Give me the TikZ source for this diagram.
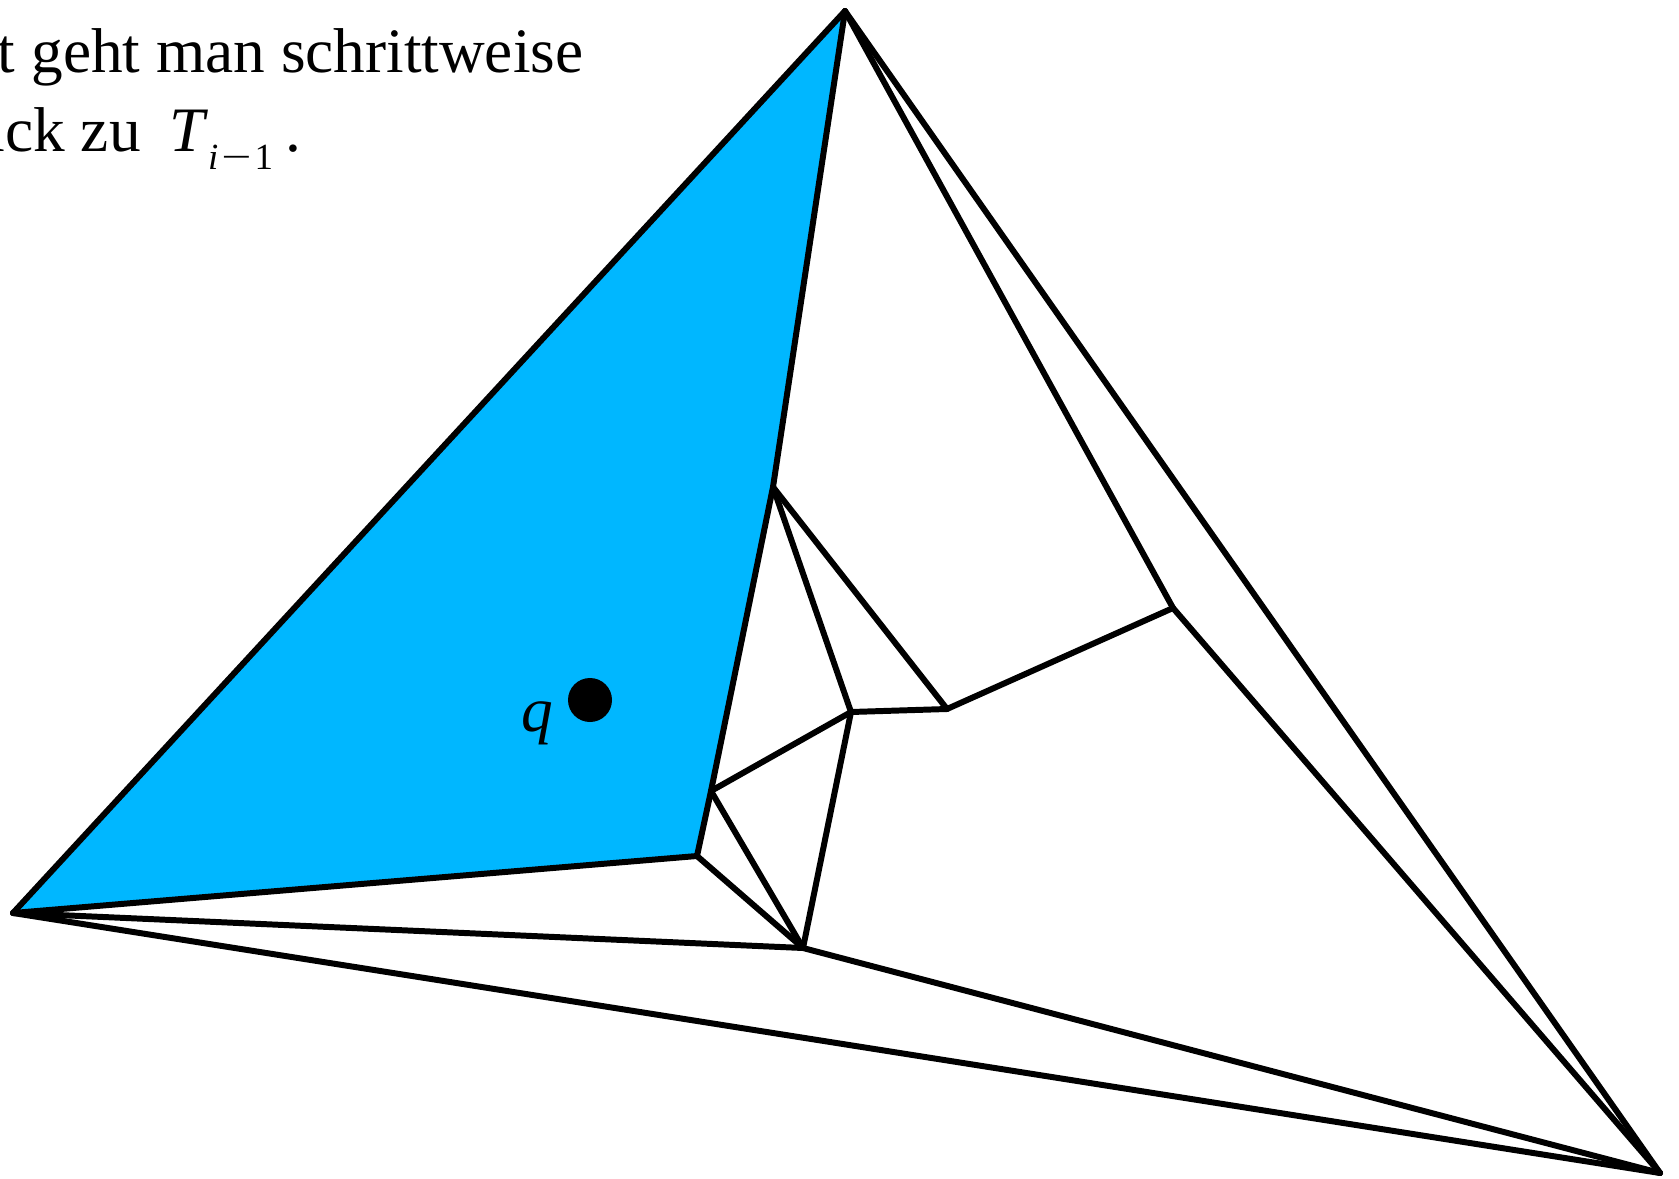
\documentclass[tikz,border=0pt]{standalone}
\usepackage{fontspec}
\setmainfont{Liberation Serif}
\definecolor{regionblue}{RGB}{0,183,255}
\tikzset{
  edge/.style={line width=1.7pt, line cap=round, line join=round},
  txt/.style={inner sep=0pt, font=\fontsize{18pt}{22pt}\selectfont},
}
\begin{document}
\begin{tikzpicture}[x=0.01cm, y=-0.01cm]
\useasboundingbox (0,0) rectangle (1679,1179);
\clip (0,0) rectangle (1679,1179);
% vertices
\coordinate (T) at (845,11);
\coordinate (L) at (13,913);
\coordinate (R) at (1660,1173);
\coordinate (A) at (773,487);
\coordinate (B) at (697,856);
\coordinate (C) at (711,791);
\coordinate (D) at (851,712);
\coordinate (E) at (947,709);
\coordinate (F) at (1173,608);
\coordinate (G) at (803,948);
% shaded region
\fill[regionblue] (T) -- (A) -- (B) -- (L) -- cycle;
% edges
\draw[edge] (L) -- (T);
\draw[edge] (T) -- (A);
\draw[edge] (A) -- (C);
\draw[edge] (C) -- (B);
\draw[edge] (B) -- (L);
\draw[edge] (L) -- (R);
\draw[edge] (L) -- (G);
\draw[edge] (B) -- (G);
\draw[edge] (C) -- (G);
\draw[edge] (C) -- (D);
\draw[edge] (D) -- (G);
\draw[edge] (A) -- (D);
\draw[edge] (A) -- (E);
\draw[edge] (D) -- (E);
\draw[edge] (E) -- (F);
\draw[edge] (T) -- (F);
\draw[edge] (F) -- (R);
\draw[edge] (T) -- (R);
\draw[edge] (G) -- (R);
% query point
\fill (590,700) circle[radius=22] coordinate (qdot);
\node[txt, anchor=base west] (qlab) at (521,731) {\itshape q};
% text
\node[txt, anchor=base east] (line1) at (584,73) {t geht man schrittweise};
\node[txt, anchor=base west] (line2) at (-27,152) {ück zu\hspace{0.2em} {\itshape T}\hspace{0.06em}\raisebox{-0.28em}{\fontsize{10.5pt}{12pt}\selectfont\itshape i\hspace{0.08em}\textup{\scalebox{1.45}[1]{−}}\hspace{0.08em}\textup{1}}\hspace{0.2em}.};
\end{tikzpicture}
\end{document}
